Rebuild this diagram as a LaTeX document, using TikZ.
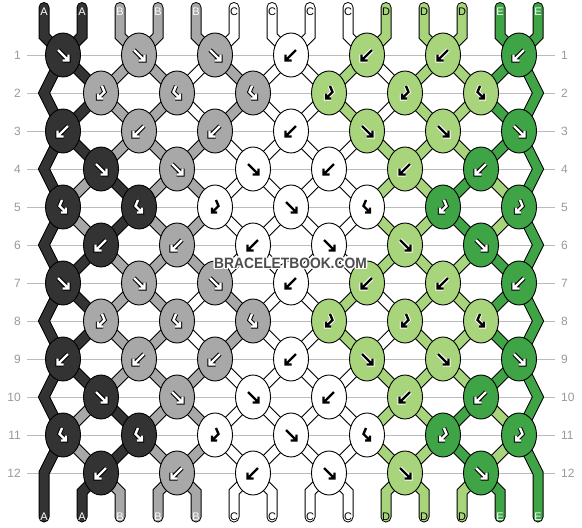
\documentclass[tikz,border=0pt]{standalone}
\usepackage{fontspec}
\usepackage{graphicx}
\setmainfont{Liberation Sans}
\usetikzlibrary{shapes.geometric,calc}
\definecolor{col0}{HTML}{333333}
\definecolor{col1}{HTML}{A8A8A8}
\definecolor{col2}{HTML}{FFFFFF}
\definecolor{col3}{HTML}{A8D47C}
\definecolor{col4}{HTML}{3EA446}
\definecolor{gridc}{HTML}{BBBBBB}
\definecolor{numc}{HTML}{999999}
\definecolor{wmark}{HTML}{4D4D4D}
\tikzset{
 knotshape/.style={ellipse, draw=black, line width=0.9pt, minimum width=35pt, minimum height=44pt, inner sep=0pt},
 gridline/.style={gridc, line width=1pt},
 rownum/.style={text=numc, font=\fontsize{12}{12}\selectfont, inner sep=0pt},
 strout/.style={line width=11pt, black, line join=miter, line cap=round},
 strfill/.style={line width=9pt, line join=miter, line cap=round},
 lab/.style={font=\fontsize{11}{11}\selectfont, inner sep=0pt},
 wmstyle/.style={font=\bfseries\fontsize{15}{15}\selectfont, inner sep=0pt},
}
\def\arrF{(-5,-5) -- (5,5) (-0.5,5.5) -- (5.5,5.5) -- (5.5,-0.5)}
\def\arrB{(5,-5) -- (-5,5) (0.5,5.5) -- (-5.5,5.5) -- (-5.5,-0.5)}
\def\arrL{(-1,-7) -- (-3.5,-1) -- (3,5.5) (-2,5.5) -- (3,5.5) -- (3,0.5)}
\def\arrR{(1,-7) -- (3.5,-1) -- (-3,5.5) (2,5.5) -- (-3,5.5) -- (-3,0.5)}
\newcommand\drawarrow[3]{%
 \begin{scope}[shift={(#1.center)}]
  \ifnum#2=2 \def\ain{black}\def\aout{white}\else
  \ifnum#2=3 \def\ain{black}\def\aout{white}\else
  \def\ain{white}\def\aout{black}\fi\fi
  \expandafter\let\expandafter\arrpath\csname arr#3\endcsname
  \draw[line width=4.4pt, draw=\aout, line cap=butt, line join=miter] \arrpath;
  \draw[line width=2.4pt, draw=\ain, line cap=butt, line join=miter] \arrpath;
 \end{scope}}
\newcommand\knotrow[2]{%
 \foreach \kc/\kt [count=\jj from 0] in {#2} {
  \node[knotshape, fill=col\kc] (k-#1-\jj) at (c-#1-\jj) {};
  \drawarrow{k-#1-\jj}{\kc}{\kt}
 }}
\def\ST{{0,0,1,1,1,2,2,2,2,3,3,3,4,4,0,0,1,1,2,1,2,2,3,2,3,3,4,4,0,1,0,1,1,2,2,2,2,3,3,4,3,4}}
\begin{document}
\begin{tikzpicture}[x=1pt,y=-1pt]
\useasboundingbox (0,0) rectangle (582,528);
\fill[white] (0,0) rectangle (582,528);
% grid lines and row numbers
\foreach \rr in {1,...,12} {
  \pgfmathsetmacro\yy{55+38*(\rr-1)}
  \draw[gridline] (27,\yy) -- (555,\yy);
  \node[rownum, anchor=east] (ln-\rr) at (21,\yy) {\rr};
  \node[rownum, anchor=west] (rn-\rr) at (561,\yy) {\rr};
}
% knot centres
\foreach \rr in {1,...,12} {
  \pgfmathsetmacro\yy{55+38*(\rr-1)}
  \pgfmathtruncatemacro\odd{mod(\rr,2)}
  \ifnum\odd=1
    \foreach \jj in {0,...,6} { \coordinate (c-\rr-\jj) at ({63+76*\jj},\yy); }
  \else
    \foreach \jj in {0,...,5} { \coordinate (c-\rr-\jj) at ({101+76*\jj},\yy); }
  \fi
}
% string points
\foreach \rr in {1,...,12} {
  \pgfmathsetmacro\yy{55+38*(\rr-1)}
  \pgfmathtruncatemacro\odd{mod(\rr,2)}
  \foreach \ii in {0,...,13} {
    \ifnum\odd=1
      \pgfmathtruncatemacro\jj{div(\ii,2)}
      \coordinate (p-\ii-\rr) at (c-\rr-\jj);
    \else
      \ifnum\ii=0 \coordinate (p-\ii-\rr) at (44,\yy);
      \else\ifnum\ii=13 \coordinate (p-\ii-\rr) at (538,\yy);
      \else \pgfmathtruncatemacro\jj{div(\ii-1,2)}\coordinate (p-\ii-\rr) at (c-\rr-\jj);
      \fi\fi
    \fi
  }
}
\foreach \ii in {0,...,13} {
  \pgfmathsetmacro\xx{44+38*\ii}
  \coordinate (tt-\ii) at (\xx,7.5);
  \coordinate (t-\ii) at (\xx,36);
  \coordinate (b-\ii) at (\xx,492);
  \coordinate (bb-\ii) at (\xx,517);
}
% string outlines
\foreach \ii in {0,...,13} {
  \draw[strout] (tt-\ii) -- (t-\ii) -- (p-\ii-1) -- (p-\ii-2) -- (p-\ii-3) -- (p-\ii-4) -- (p-\ii-5) -- (p-\ii-6) -- (p-\ii-7) -- (p-\ii-8) -- (p-\ii-9) -- (p-\ii-10) -- (p-\ii-11) -- (p-\ii-12) -- (b-\ii) -- (bb-\ii);
}
% edge strings
\draw[strfill, col0] (tt-0) -- (t-0) -- (p-0-1) -- (p-0-2) -- (p-0-3) -- (p-0-4) -- (p-0-5) -- (p-0-6) -- (p-0-7) -- (p-0-8) -- (p-0-9) -- (p-0-10) -- (p-0-11) -- (p-0-12) -- (b-0) -- (bb-0);
\draw[strfill, col4] (tt-13) -- (t-13) -- (p-13-1) -- (p-13-2) -- (p-13-3) -- (p-13-4) -- (p-13-5) -- (p-13-6) -- (p-13-7) -- (p-13-8) -- (p-13-9) -- (p-13-10) -- (p-13-11) -- (p-13-12) -- (b-13) -- (bb-13);
% interior strings
\foreach \rr/\ss in {1/1,2/1,3/0,4/2,5/2,6/0,7/1,8/1,9/0,10/2,11/2} {
  \pgfmathtruncatemacro\rn{\rr+1}
  \foreach \ii in {1,...,12} {
    \pgfmathtruncatemacro\cc{\ST[14*\ss+\ii]}
    \draw[strfill, draw=col\cc, line cap=butt] (p-\ii-\rr) -- (p-\ii-\rn);
  }
}
\foreach \ii in {1,...,12} {
  \pgfmathtruncatemacro\cc{\ST[\ii]}
  \draw[strfill, draw=col\cc] (tt-\ii) -- (t-\ii) -- (p-\ii-1);
  \draw[strfill, draw=col\cc] (p-\ii-12) -- (b-\ii) -- (bb-\ii);
}
% labels
\foreach \ii/\ll/\tc in {0/A/white,1/A/white,2/B/white,3/B/white,4/B/white,5/C/black,6/C/black,7/C/black,8/C/black,9/D/black,10/D/black,11/D/black,12/E/white,13/E/white} {
  \node[lab, text=\tc] (tl-\ii) at ($(tt-\ii)+(0,4.5)$) {\ll};
  \node[lab, text=\tc] (bl-\ii) at (bb-\ii) {\ll};
}
% knots
\knotrow{1}{0/F,1/F,1/F,2/B,3/B,3/B,4/B}
\knotrow{2}{1/R,1/L,1/L,3/R,3/R,3/L}
\knotrow{3}{0/B,1/B,1/B,2/B,3/F,3/F,4/F}
\knotrow{4}{0/F,1/F,2/F,2/B,3/B,4/B}
\knotrow{5}{0/L,0/L,2/R,2/F,2/L,4/R,4/R}
\knotrow{6}{0/B,1/B,2/B,2/F,3/F,4/F}
\knotrow{7}{0/F,1/F,1/F,2/B,3/B,3/B,4/B}
\knotrow{8}{1/R,1/L,1/L,3/R,3/R,3/L}
\knotrow{9}{0/B,1/B,1/B,2/B,3/F,3/F,4/F}
\knotrow{10}{0/F,1/F,2/F,2/B,3/B,4/B}
\knotrow{11}{0/L,0/L,2/R,2/F,2/L,4/R,4/R}
\knotrow{12}{0/B,1/B,2/B,2/F,3/F,4/F}
% watermark
\foreach \dx/\dy in {-1.5/0,1.5/0,0/-1.5,0/1.5,-1.1/-1.1,1.1/-1.1,-1.1/1.1,1.1/1.1} {
  \node[wmstyle, text=white] at (290.5+\dx,263+\dy) {\scalebox{0.92}[1]{BRACELETBOOK.COM}};
}
\node[wmstyle, text=wmark] (wm) at (290.5,263) {\scalebox{0.92}[1]{BRACELETBOOK.COM}};
\end{tikzpicture}
\end{document}
